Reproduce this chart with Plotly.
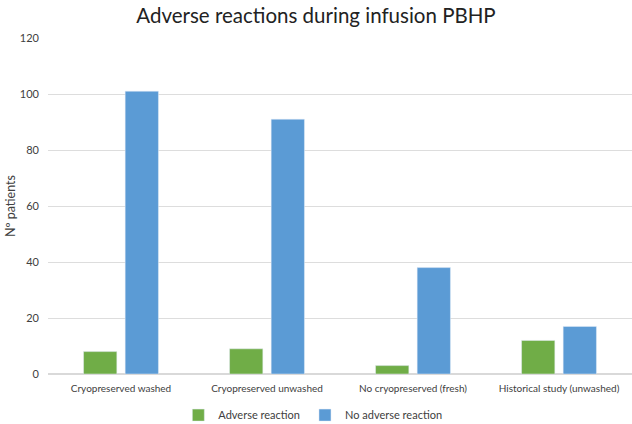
import plotly.graph_objects as go

categories = ["Cryopreserved washed", "Cryopreserved unwashed", "No cryopreserved (fresh)", "Historical study (unwashed)"]
adverse = [8, 9, 3, 12]
no_adverse = [101, 91, 38, 17]
y_ticks = [0, 20, 40, 60, 80, 100, 120]

fig = go.Figure()
fig.add_trace(go.Bar(name="Adverse reaction", x=categories, y=adverse, marker_color="#70AD47"))
fig.add_trace(go.Bar(name="No adverse reaction", x=categories, y=no_adverse, marker_color="#5B9BD5"))

fig.update_layout(
    width=632, height=424,
    margin=dict(l=48, r=0, t=38, b=50, autoexpand=False),
    paper_bgcolor="white", plot_bgcolor="white",
    font=dict(family="Lato, Open Sans, sans-serif", color="#404040", size=11),
    title=dict(text="Adverse reactions during infusion PBHP", x=0.5, xanchor="center",
               xref="container", y=0.962, yanchor="middle", yref="container",
               font=dict(size=20.5, color="#222222")),
    barmode="group", bargap=0.43, bargroupgap=0.2,
    legend=dict(orientation="h", xref="container", yref="container", x=0.495, xanchor="center",
                y=0.021, yanchor="middle", font=dict(size=11, color="#404040"), itemwidth=30),
    showlegend=True,
    annotations=[dict(text="Nº patients", xref="paper", yref="paper", x=-0.065, y=0.5,
                      xanchor="center", yanchor="middle", textangle=-90, showarrow=False,
                      font=dict(size=12.5, color="#404040"))],
)
fig.update_yaxes(range=[0, 120], tickvals=y_ticks, showgrid=True, gridcolor="#DDDDDD", zeroline=True,
                 zerolinecolor="#D9D9D9", ticks="", ticklabelstandoff=8, automargin=False,
                 tickfont=dict(size=11, color="#404040"))
fig.update_xaxes(showline=True, linecolor="#D9D9D9", ticks="", ticklabelstandoff=5, automargin=False,
                 tickfont=dict(size=10, color="#404040"))

fig.write_html("out.html", config={"displayModeBar": False},
               post_script="document.body.style.margin='0';document.body.style.overflow='hidden';")
